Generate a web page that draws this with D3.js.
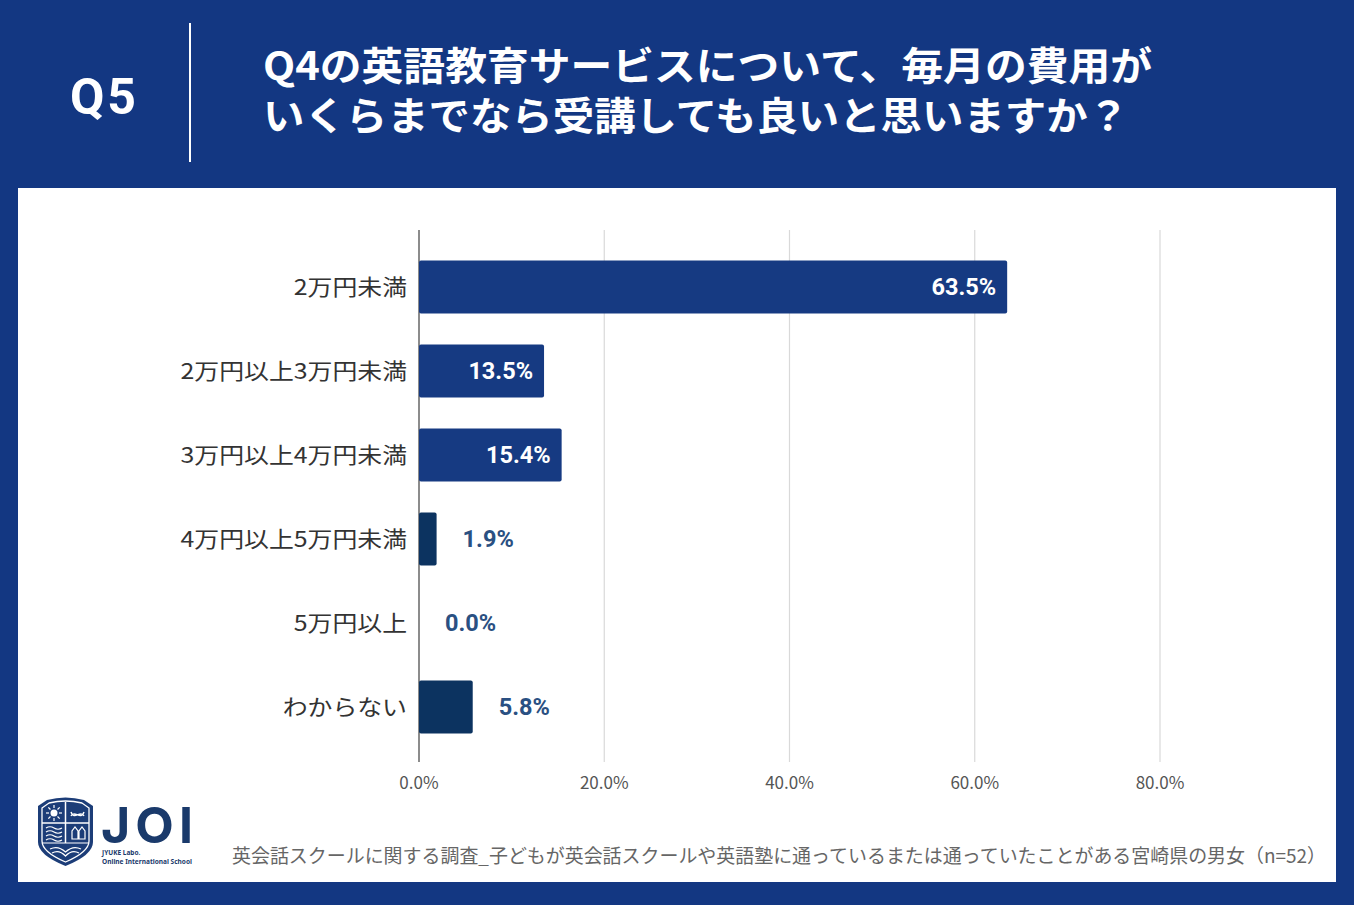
<!DOCTYPE html>
<html lang="ja">
<head>
    <meta charset="UTF-8">
    <title>Q5 chart</title>
    <script src="https://d3js.org/d3.v7.min.js"></script>
    <style>
        body { margin: 0; background: #133782; }
        svg { display: block; font-family: "Noto Sans CJK JP", "Noto Sans", sans-serif; }
    </style>
</head>
<body>
<div id="container"></div>
<script>
    // data
    const categories = ['2万円未満', '2万円以上3万円未満', '3万円以上4万円未満', '4万円以上5万円未満', '5万円以上', 'わからない'];
    const values = [63.5, 13.5, 15.4, 1.9, 0.0, 5.8];
    const xTicks = [0, 20, 40, 60, 80];
    const titleLines = ['Q4の英語教育サービスについて、毎月の費用が', 'いくらまでなら受講しても良いと思いますか？'];
    const note = '英会話スクールに関する調査_子どもが英会話スクールや英語塾に通っているまたは通っていたことがある宮崎県の男女（n=52）';

    const W = 1354, H = 905;
    const navy = '#133782';
    const logoBlue = '#1c3d78';

    const svg = d3.select('#container').append('svg')
        .attr('width', W).attr('height', H);

    svg.append('rect').attr('width', W).attr('height', H).attr('fill', navy);

    // header
    svg.append('text')
        .attr('x', 103).attr('y', 114)
        .attr('text-anchor', 'middle')
        .attr('fill', '#fff')
        .attr('font-size', 50)
        .attr('font-weight', 700)
        .attr('font-family', 'Roboto, "Noto Sans", sans-serif')
        .attr('textLength', 66)
        .text('Q5');

    svg.append('line')
        .attr('x1', 190).attr('x2', 190).attr('y1', 23).attr('y2', 162)
        .attr('stroke', '#fff').attr('stroke-width', 2);

    const titleWidths = [889, 866];
    svg.selectAll('.title')
        .data(titleLines)
        .enter()
        .append('text')
        .attr('class', 'title')
        .attr('x', 263)
        .attr('y', (d, i) => 80 + i * 50)
        .attr('fill', '#fff')
        .attr('font-size', 39)
        .attr('font-weight', 700)
        .attr('textLength', (d, i) => titleWidths[i])
        .attr('lengthAdjust', 'spacingAndGlyphs')
        .text(d => d);

    // white panel
    svg.append('rect')
        .attr('x', 18).attr('y', 188)
        .attr('width', 1318).attr('height', 694)
        .attr('fill', '#fff');

    // scales
    const x = d3.scaleLinear().domain([0, 80]).range([419, 1160]);
    const y = d3.scaleBand().domain(categories).range([245, 749]).paddingInner(0.37).paddingOuter(0.185);

    // gridlines
    svg.selectAll('.grid')
        .data(xTicks)
        .enter()
        .append('line')
        .attr('class', 'grid')
        .attr('x1', d => x(d)).attr('x2', d => x(d))
        .attr('y1', 230).attr('y2', 762)
        .attr('stroke', d => d === 0 ? '#666' : '#d9d9d9')
        .attr('stroke-width', d => d === 0 ? 1.5 : 1.2);

    // x tick labels
    svg.selectAll('.xtick')
        .data(xTicks)
        .enter()
        .append('text')
        .attr('class', 'xtick')
        .attr('x', d => x(d))
        .attr('y', 789)
        .attr('text-anchor', 'middle')
        .attr('fill', '#555')
        .attr('font-size', 17)
        .text(d => d.toFixed(1) + '%');

    // category labels (reference font is a bit wider, so stretch a little)
    svg.selectAll('.ylab')
        .data(categories)
        .enter()
        .append('text')
        .attr('class', 'ylab')
        .attr('x', 407)
        .attr('y', d => y(d) + y.bandwidth() / 2 + 8)
        .attr('text-anchor', 'end')
        .attr('fill', '#333')
        .attr('font-size', 22)
        .text(d => d)
        .each(function() {
            const len = this.getComputedTextLength();
            d3.select(this).attr('textLength', len * 1.13).attr('lengthAdjust', 'spacingAndGlyphs');
        });

    // bars
    const inside = d => d >= 10;
    svg.selectAll('.bar')
        .data(values)
        .enter()
        .append('rect')
        .attr('class', 'bar')
        .attr('x', x(0))
        .attr('y', (d, i) => y(categories[i]))
        .attr('width', d => x(d) - x(0))
        .attr('height', y.bandwidth())
        .attr('rx', 2)
        .attr('fill', d => inside(d) ? '#163a82' : '#0c3360');

    // value labels
    svg.selectAll('.val')
        .data(values)
        .enter()
        .append('text')
        .attr('class', 'val')
        .attr('x', d => inside(d) ? x(d) - 11 : x(d) + 26)
        .attr('y', (d, i) => y(categories[i]) + y.bandwidth() / 2 + 8)
        .attr('text-anchor', d => inside(d) ? 'end' : 'start')
        .attr('fill', d => inside(d) ? '#fff' : '#2a5082')
        .attr('font-size', 23.5)
        .attr('font-weight', 700)
        .attr('font-family', 'Roboto, "Noto Sans", sans-serif')
        .text(d => d.toFixed(1) + '%');

    // footnote
    svg.append('text')
        .attr('x', 232).attr('y', 863)
        .attr('fill', '#666')
        .attr('font-size', 19)
        .attr('textLength', 1094)
        .attr('lengthAdjust', 'spacingAndGlyphs')
        .text(note);

    // logo: shield with four small emblems and a book
    const logo = svg.append('g').attr('transform', 'translate(38,797)');
    logo.append('path')
        .attr('d', 'M0,9 L9,3 Q27.5,-2 46,3 L55,9 L55,45 Q55,58 27.5,69 Q0,58 0,45 Z')
        .attr('fill', logoBlue);
    logo.append('path')
        .attr('d', 'M4,11 L11,6 Q27.5,2 44,6 L51,11 L51,44 Q51,55 27.5,65 Q4,55 4,44 Z')
        .attr('fill', 'none').attr('stroke', '#fff').attr('stroke-width', 1.3);
    logo.append('line').attr('x1', 27.5).attr('x2', 27.5).attr('y1', 5).attr('y2', 46).attr('stroke', '#fff').attr('stroke-width', 1.5);
    logo.append('line').attr('x1', 4).attr('x2', 51).attr('y1', 26).attr('y2', 26).attr('stroke', '#fff').attr('stroke-width', 1.5);
    logo.append('line').attr('x1', 4).attr('x2', 51).attr('y1', 46).attr('y2', 46).attr('stroke', '#fff').attr('stroke-width', 1.2);
    // sun
    logo.append('circle').attr('cx', 16).attr('cy', 16).attr('r', 3.5).attr('fill', '#fff');
    d3.range(8).forEach(k => {
        const a = k * Math.PI / 4;
        logo.append('line')
            .attr('x1', 16 + Math.cos(a) * 5).attr('y1', 16 + Math.sin(a) * 5)
            .attr('x2', 16 + Math.cos(a) * 8).attr('y2', 16 + Math.sin(a) * 8)
            .attr('stroke', '#fff').attr('stroke-width', 1.2);
    });
    // infinity
    logo.append('path').attr('d', 'M33,19 C36,12 43,24 46,15 M33,15 C36,24 43,12 46,19')
        .attr('fill', 'none').attr('stroke', '#fff').attr('stroke-width', 1.4);
    // waves
    [31, 35, 39, 43].forEach(yy => logo.append('path')
        .attr('d', `M8,${yy} q4,-2.5 8,0 t8,0`)
        .attr('fill', 'none').attr('stroke', '#fff').attr('stroke-width', 1.2));
    // pens
    logo.append('path').attr('d', 'M34,42 L34,34 L37,30 L40,34 L40,42 Z M41,42 L41,34 L44,30 L47,34 L47,42 Z')
        .attr('fill', 'none').attr('stroke', '#fff').attr('stroke-width', 1.2);
    // book
    logo.append('path').attr('d', 'M12,52 Q20,48 27.5,55 Q35,48 43,52 M14,56 Q21,52 27.5,59 Q34,52 41,56')
        .attr('fill', 'none').attr('stroke', '#fff').attr('stroke-width', 1.2);

    svg.append('text')
        .attr('x', 101).attr('y', 843)
        .attr('fill', '#1a3a6b')
        .attr('font-size', 50)
        .attr('font-weight', 700)
        .attr('font-family', 'Inter, "Noto Sans", sans-serif')
        .attr('textLength', 92)
        .attr('lengthAdjust', 'spacing')
        .text('JOI');
    svg.append('text')
        .attr('x', 102).attr('y', 855)
        .attr('fill', '#1a3a6b')
        .attr('font-size', 6.5)
        .attr('font-weight', 700)
        .attr('font-family', '"Noto Sans", sans-serif')
        .text('JYUKE Labo.');
    svg.append('text')
        .attr('x', 102).attr('y', 864)
        .attr('fill', '#1a3a6b')
        .attr('font-size', 6.5)
        .attr('font-weight', 700)
        .attr('font-family', '"Noto Sans", sans-serif')
        .attr('textLength', 90)
        .attr('lengthAdjust', 'spacingAndGlyphs')
        .text('Online International School');
</script>
</body>
</html>
